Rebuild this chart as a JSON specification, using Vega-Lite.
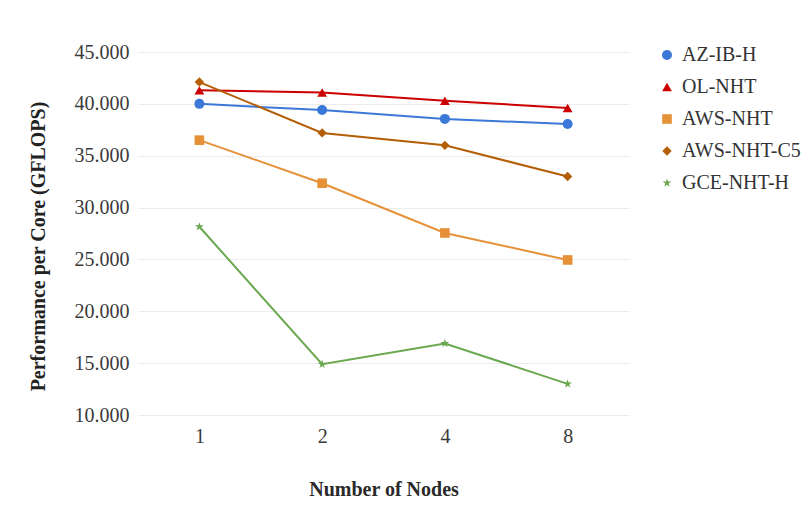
{
  "$schema": "https://vega.github.io/schema/vega-lite/v6.json",
  "width": 491,
  "height": 363,
  "autosize": {"type": "none"},
  "padding": {"left": 138, "top": 52, "right": 178, "bottom": 97},
  "background": "white",
  "data": {
    "values": [
      {"nodes": "1", "series": "AZ-IB-H", "perf": 40.0},
      {"nodes": "2", "series": "AZ-IB-H", "perf": 39.4},
      {"nodes": "4", "series": "AZ-IB-H", "perf": 38.55},
      {"nodes": "8", "series": "AZ-IB-H", "perf": 38.05},
      {"nodes": "1", "series": "OL-NHT", "perf": 41.3},
      {"nodes": "2", "series": "OL-NHT", "perf": 41.1},
      {"nodes": "4", "series": "OL-NHT", "perf": 40.3},
      {"nodes": "8", "series": "OL-NHT", "perf": 39.6},
      {"nodes": "1", "series": "AWS-NHT", "perf": 36.5},
      {"nodes": "2", "series": "AWS-NHT", "perf": 32.35},
      {"nodes": "4", "series": "AWS-NHT", "perf": 27.55},
      {"nodes": "8", "series": "AWS-NHT", "perf": 24.95},
      {"nodes": "1", "series": "AWS-NHT-C5", "perf": 42.1},
      {"nodes": "2", "series": "AWS-NHT-C5", "perf": 37.2},
      {"nodes": "4", "series": "AWS-NHT-C5", "perf": 36.0},
      {"nodes": "8", "series": "AWS-NHT-C5", "perf": 33.0},
      {"nodes": "1", "series": "GCE-NHT-H", "perf": 28.15},
      {"nodes": "2", "series": "GCE-NHT-H", "perf": 14.9},
      {"nodes": "4", "series": "GCE-NHT-H", "perf": 16.9},
      {"nodes": "8", "series": "GCE-NHT-H", "perf": 13.0}
    ]
  },
  "encoding": {
    "x": {
      "field": "nodes", "type": "ordinal", "sort": ["1", "2", "4", "8"],
      "scale": {"type": "point", "padding": 0.5},
      "axis": {
        "title": "Number of Nodes", "labelAngle": 0, "domain": false, "ticks": false, "grid": false,
        "labelFont": "Times New Roman", "labelFontSize": 20, "labelColor": "#3a3a3a", "labelPadding": 11,
        "titleFont": "Times New Roman", "titleFontSize": 20, "titleFontWeight": "bold", "titleColor": "#2a2a2a", "titlePadding": 33
      }
    },
    "y": {
      "field": "perf", "type": "quantitative",
      "scale": {"domain": [10, 45], "nice": false, "zero": false},
      "axis": {
        "title": "Performance per Core (GFLOPS)", "values": [10, 15, 20, 25, 30, 35, 40, 45], "format": ".3f",
        "domain": false, "ticks": false, "gridColor": "#ececec", "gridWidth": 1,
        "labelFont": "Times New Roman", "labelFontSize": 20, "labelColor": "#3a3a3a", "labelPadding": 9,
        "titleFont": "Times New Roman", "titleFontSize": 20, "titleFontWeight": "bold", "titleColor": "#222222", "titlePadding": 26,
        "titleY": 194
      }
    },
    "color": {
      "field": "series", "type": "nominal", "title": null,
      "sort": ["AZ-IB-H", "OL-NHT", "AWS-NHT", "AWS-NHT-C5", "GCE-NHT-H"],
      "scale": {
        "domain": ["AZ-IB-H", "OL-NHT", "AWS-NHT", "AWS-NHT-C5", "GCE-NHT-H"],
        "range": ["#3c78d8", "#cc0000", "#e69138", "#b45f06", "#6aa84f"]
      },
      "legend": {
        "orient": "none", "legendX": 519, "legendY": -7,
        "symbolType": "circle"
      }
    }
  },
  "layer": [
    {"mark": {"type": "line", "strokeWidth": 2}},
    {
      "mark": {"type": "point", "filled": true, "opacity": 1},
      "encoding": {
        "shape": {
          "field": "series", "type": "nominal", "title": null,
          "sort": ["AZ-IB-H", "OL-NHT", "AWS-NHT", "AWS-NHT-C5", "GCE-NHT-H"],
          "scale": {
            "domain": ["AZ-IB-H", "OL-NHT", "AWS-NHT", "AWS-NHT-C5", "GCE-NHT-H"],
            "range": ["circle", "triangle-up", "square", "diamond", "M0,-1L0.2245,-0.309L0.9511,-0.309L0.3633,0.118L0.5878,0.809L0,0.382L-0.5878,0.809L-0.3633,0.118L-0.9511,-0.309L-0.2245,-0.309Z"]
          },
          "legend": {
            "orient": "none", "legendX": 519, "legendY": -7
          }
        },
        "size": {
          "field": "series", "type": "nominal", "legend": null,
          "scale": {
            "domain": ["AZ-IB-H", "OL-NHT", "AWS-NHT", "AWS-NHT-C5", "GCE-NHT-H"],
            "range": [100, 85, 55, 90, 110]
          }
        }
      }
    }
  ],
  "config": {
    "font": "Times New Roman",
    "view": {"stroke": null},
    "legend": {
      "labelFont": "Times New Roman", "labelFontSize": 20,
      "labelColor": "#333333", "symbolSize": 80, "rowPadding": 12, "labelOffset": 5,
      "symbolStrokeWidth": 0
    }
  }
}
